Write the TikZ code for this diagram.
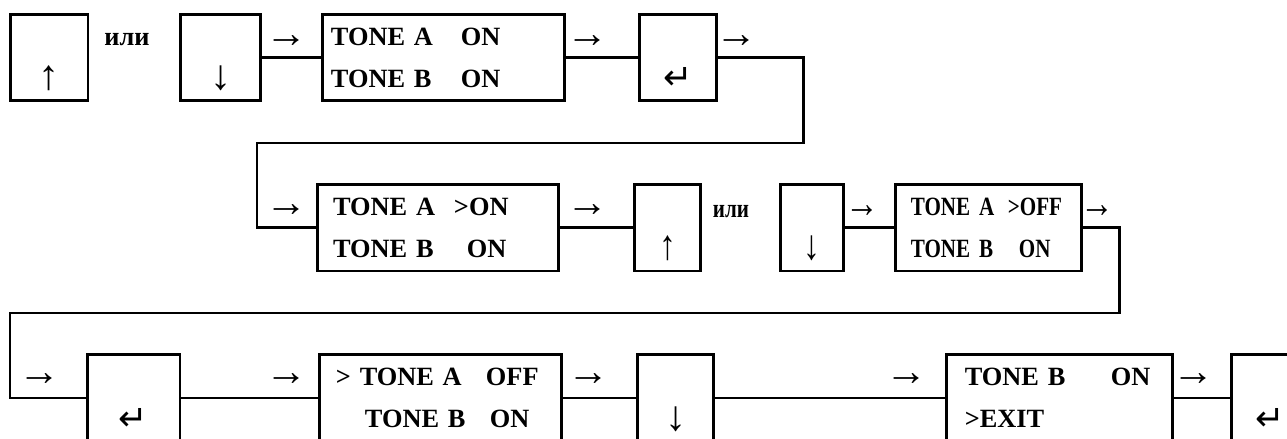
\documentclass[tikz,border=0pt]{standalone}
\usepackage{fontspec}
\setmainfont{Liberation Serif}
\newfontfamily\narrowserif{Liberation Serif}[FakeStretch=0.8]
\newfontfamily\symfont{DejaVu Sans}
\usetikzlibrary{positioning}

\newcommand{\enterkey}{{\symfont\fontsize{20}{20}\selectfont ↵}}

\begin{document}
\begin{tikzpicture}[
    x=0.02cm, y=-0.02cm,
    line width=1.7pt,
    node distance=1cm,
    screen/.style={rectangle, draw, minimum height=1.74cm, align=left, font=\fontsize{15}{24}\selectfont\bfseries},
    key/.style={rectangle, draw, minimum height=1.74cm, inner ysep=0pt, text height=1.3cm, text depth=0cm, font=\fontsize{24}{24}\selectfont},
    arr/.style={inner sep=0pt, font=\fontsize{24}{24}\selectfont},
    word/.style={inner sep=0pt, font=\fontsize{15}{15}\selectfont\bfseries},
    wire/.style={line width=1.7pt}
  ]
  \useasboundingbox (0,0) rectangle (1287,439);
  \clip (0,0) rectangle (1287,439);

  % first row
  \node[key, minimum width=1.56cm] (up1) at (49,57.5) {↑};
  \node[key, minimum width=1.6cm, right=1.8cm of up1] (dn1) {↓};
  \node[screen, text width=4.52cm, inner xsep=0.16cm, right=1.18cm of dn1] (tone1)
    {\makebox[2.6cm][l]{TONE A}ON\\\makebox[2.6cm][l]{TONE B}ON};
  \node[key, minimum width=1.54cm, right=1.44cm of tone1] (ent1) {\enterkey};
  \node[word] (or1) at (127,40) {или};

  % second row
  \node[screen, text width=4.2cm, inner xsep=0.32cm] (tone2) at (438,227.5)
    {\makebox[2.42cm][l]{TONE A}>ON\\\makebox[2.68cm][l]{TONE B}ON};
  \node[key, minimum width=1.32cm, right=1.46cm of tone2] (up2) {\narrowserif ↑};
  \node[key, minimum width=1.26cm, right=1.54cm of up2] (dn2) {\narrowserif ↓};
  \node[screen, text width=3.12cm, inner xsep=0.3cm, right=0.98cm of dn2] (tone3)
    {\narrowserif\makebox[1.94cm][l]{TONE A}>OFF\\\makebox[2.16cm][l]{TONE B}ON};
  \node[word] (or2) at (731,212) {\narrowserif или};

  % third row
  \node[key, minimum width=1.86cm] (ent2) at (133.5,398) {\enterkey};
  \node[screen, text width=4.2cm, inner xsep=0.32cm, right=2.74cm of ent2] (tone4)
    {\makebox[3.0cm][l]{> TONE A}OFF\\\hspace*{0.58cm}\makebox[2.5cm][l]{TONE B}ON};
  \node[key, minimum width=1.52cm, right=1.46cm of tone4] (dn3) {↓};
  \node[screen, text width=3.8cm, inner xsep=0.36cm, right=4.6cm of dn3] (tone5)
    {\makebox[2.92cm][l]{TONE B}ON\\>EXIT};
  \node[key, minimum width=1.54cm, right=1.12cm of tone5] (ent3) {\enterkey};

  % arrow marks over the wires
  \node[arr] (a1) at (287,42) {→};
  \node[arr] (a2) at (588,42) {→};
  \node[arr] (a3) at (737,42) {→};
  \node[arr] (a4) at (287,211) {→};
  \node[arr] (a5) at (588,211) {→};
  \node[arr] (a6) at (862,212) {\narrowserif →};
  \node[arr] (a7) at (1097,212) {\narrowserif →};
  \node[arr] (a8) at (40,380) {→};
  \node[arr] (a9) at (287,380) {→};
  \node[arr] (a10) at (589,380) {→};
  \node[arr] (a11) at (907,380) {→};
  \node[arr] (a12) at (1194,380) {→};

  % turns of the wires between rows
  \coordinate (r1) at (803,143);
  \coordinate (l1) at (257,143);
  \coordinate (r2) at (1119,313);
  \coordinate (l2) at (10,313);

  % wires
  \draw[wire] (dn1) -- (tone1);
  \draw[wire] (tone1) -- (ent1);
  \draw[wire] (ent1.east) -| (r1) -- (l1) |- (tone2.west);
  \draw[wire] (tone2) -- (up2);
  \draw[wire] (dn2) -- (tone3);
  \draw[wire] (tone3.east) -| (r2) -- (l2) |- (ent2.west);
  \draw[wire] (ent2) -- (tone4);
  \draw[wire] (tone4) -- (dn3);
  \draw[wire] (dn3) -- (tone5);
  \draw[wire] (tone5) -- (ent3);
\end{tikzpicture}
\end{document}
